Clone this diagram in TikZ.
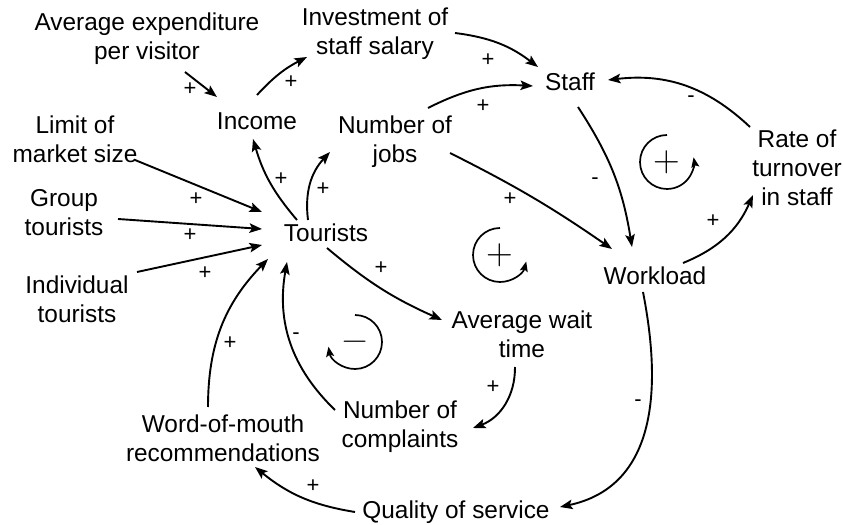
\documentclass[tikz,border=0pt]{standalone}
\usepackage{fontspec}
\setmainfont{Liberation Sans}
\newfontfamily\lmsign{Latin Modern Roman}
\usetikzlibrary{arrows.meta,calc}
\begin{document}
\begin{tikzpicture}[x=1pt,y=1pt,
  var/.style={align=center, inner sep=0pt, font=\fontsize{24.4}{29}\selectfont},
  lnk/.style={line width=1.9pt, -{Stealth[length=12.5pt,width=9.5pt,inset=2.5pt]}},
  pol/.style={inner sep=0pt, font=\fontsize{22}{24}\selectfont},
  looparr/.style={line width=1.7pt, -{Stealth[length=10pt,width=8pt,inset=2pt]}},
  loopsign/.style={inner sep=0pt, font=\lmsign\fontsize{37}{40}\selectfont}]
\useasboundingbox (0,0) rectangle (844,525);
% variables
\node[var] (avg)   at (147,486) {Average expenditure\\per visitor};
\node[var] (inv)   at (375,491) {Investment of\\staff salary};
\node[var] (staff) at (570,443) {Staff};
\node[var] (inc)   at (257,404) {Income};
\node[var] (jobs)  at (395,383) {Number of\\jobs};
\node[var] (lim)   at (75,386)  {Limit of\\market size};
\node[var] (grp)   at (64,312)  {Group\\tourists};
\node[var] (tour)  at (326,292) {Tourists};
\node[var] (ind)   at (77,226)  {Individual\\tourists};
\node[var] (rate)  at (797,357) {Rate of\\turnover\\in staff};
\node[var] (work)  at (655,249) {Workload};
\node[var] (wait)  at (522,191) {Average wait\\time};
\node[var] (comp)  at (400,98)  {Number of\\complaints};
\node[var] (wom)   at (223,87)  {Word-of-mouth\\recommendations};
\node[var] (qual)  at (456,13)  {Quality of service};
% links
\draw[lnk] ($(avg)+(38,-33)$) -- ($(inc)+(-40,24)$);
\draw[lnk] ($(inc)+(0,26)$) to[bend left=10] ($(inv)+(-68,-23)$);
\draw[lnk] ($(inv)+(80,1)$) to[bend left=15] ($(staff)+(-32,15)$);
\draw[lnk] ($(jobs)+(33,34)$) to[bend left=15] ($(staff)+(-37,-4)$);
\draw[lnk] ($(rate)+(-47,41)$) to[bend right=25] ($(staff)+(38,2)$);
\draw[lnk] ($(staff)+(8,-25)$) to[bend left=12] ($(work)+(-23,29)$);
\draw[lnk] ($(jobs)+(55,-11)$) to[bend left=4] ($(work)+(-43,27)$);
\draw[lnk] ($(work)+(28,13)$) to[bend right=22] ($(rate)+(-44,-27)$);
\draw[lnk] ($(lim)+(60,-21)$) -- ($(tour)+(-64,21)$);
\draw[lnk] ($(grp)+(54,-6)$) -- ($(tour)+(-64,4)$);
\draw[lnk] ($(ind)+(60,27)$) -- ($(tour)+(-64,-12)$);
\draw[lnk] ($(tour)+(-29,13)$) to[bend left=12] ($(inc)+(-4,-18)$);
\draw[lnk] ($(tour)+(-18,13)$) to[bend left=25] ($(jobs)+(-65,-10)$);
\draw[lnk] ($(tour)+(1,-15)$) to[bend right=8] ($(wait)+(-80,14)$);
\draw[lnk] ($(wait)+(-7,-33)$) to[bend left=35] ($(comp)+(73,-1)$);
\draw[lnk] ($(comp)+(-65,17)$) to[bend left=28] ($(tour)+(-39,-29)$);
\draw[lnk] ($(wom)+(-15,31)$) to[bend left=22] ($(tour)+(-58,-26)$);
\draw[lnk] ($(qual)+(-101,0)$) to[bend left=15] ($(wom)+(32,-29)$);
\draw[lnk] ($(work)+(-12,-16)$) .. controls +(25,-128) and +(80,17) .. ($(qual)+(104,5)$);
% polarities
\node[pol] (p1)  at (190,436) {+};
\node[pol] (p2)  at (291,443) {+};
\node[pol] (p3)  at (488,465) {+};
\node[pol] (p4)  at (483,419) {+};
\node[pol] (p5)  at (691,426) {-};
\node[pol] (p6)  at (595,344) {-};
\node[pol] (p7)  at (510,326) {+};
\node[pol] (p8)  at (713,304) {+};
\node[pol] (p9)  at (196,326) {+};
\node[pol] (p10) at (190,290) {+};
\node[pol] (p11) at (205,252) {+};
\node[pol] (p12) at (281,346) {+};
\node[pol] (p13) at (323,336) {+};
\node[pol] (p14) at (381,257) {+};
\node[pol] (p15) at (493,138) {+};
\node[pol] (p16) at (296,189) {-};
\node[pol] (p17) at (230,182) {+};
\node[pol] (p18) at (313,39)  {+};
\node[pol] (p19) at (638,122) {-};
% loop markers
\coordinate (c1) at (667,363);
\coordinate (c2) at (500,270);
\coordinate (c3) at (355,183);
\node[loopsign] (l1) at (c1) {+};
\draw[looparr] ($(c1)+(90:27)$) arc[start angle=90, end angle=370, radius=27];
\node[loopsign] (l2) at (c2) {+};
\draw[looparr] ($(c2)+(90:27)$) arc[start angle=90, end angle=346, radius=27];
\node[loopsign, font=\lmsign\fontsize{35}{40}\selectfont] (l3) at ($(c3)+(0,-4)$) {−};
\draw[looparr] ($(c3)+(90:27)$) arc[start angle=90, end angle=-170, radius=27];
\end{tikzpicture}
\end{document}
